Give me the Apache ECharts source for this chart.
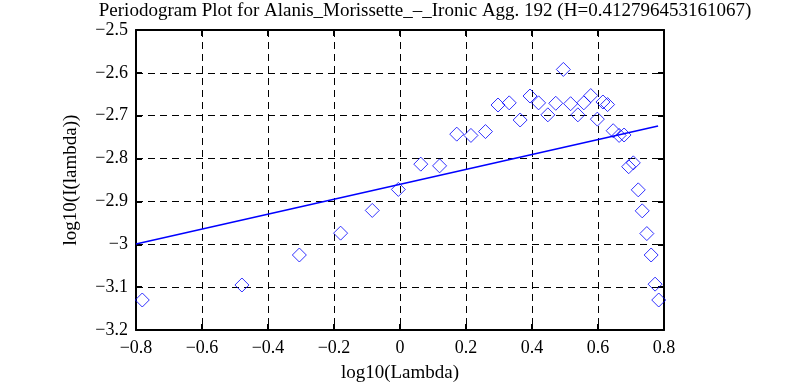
<!DOCTYPE html>
<html><head><meta charset="utf-8">
<script src="https://cdn.jsdelivr.net/npm/echarts@6/dist/echarts.min.js"></script>
<style>html,body{margin:0;padding:0;background:#fff}#c{width:800px;height:385px}</style>
</head><body><div id="c"></div>
<script>
var titleText = "Periodogram Plot for Alanis_Morissette_\u2013_Ironic Agg. 192 (H=0.412796453161067)";
var xName = "log10(Lambda)";
var yName = "log10(I(lambda))";
var pointsX = [-0.781,-0.479,-0.305,-0.180,-0.084,-0.005,0.063,0.120,0.172,0.215,0.259,0.297,0.331,0.364,0.394,0.420,0.448,0.472,0.495,0.517,0.539,0.557,0.578,0.598,0.615,0.629,0.646,0.664,0.679,0.693,0.707,0.722,0.734,0.748,0.761,0.773,0.784];
var pointsY = [-3.130,-3.095,-3.025,-2.974,-2.921,-2.872,-2.813,-2.817,-2.743,-2.746,-2.737,-2.675,-2.670,-2.710,-2.654,-2.670,-2.698,-2.671,-2.592,-2.672,-2.698,-2.670,-2.653,-2.708,-2.668,-2.674,-2.735,-2.746,-2.745,-2.819,-2.810,-2.873,-2.922,-2.975,-3.025,-3.093,-3.130];
var fitX = [-0.8, 0.782];
var fitY = [-2.9993, -2.7240];

var fmt = function(v){ var s = String(parseFloat(v.toFixed(1))); return s.replace('-', '\u2212'); };
var font = "'Liberation Serif', 'DejaVu Serif', serif";
var chart = echarts.init(document.getElementById('c'));
var axisCommon = {
  axisLine: {show: true, onZero: false, lineStyle: {color: '#000', width: 2}},
  axisTick: {show: true, inside: true, length: 6, lineStyle: {color: '#000', width: 2}},
};
chart.setOption({
  animation: false,
  backgroundColor: '#fff',
  title: {text: titleText, left: 420, top: -3, textAlign: 'center',
    textStyle: {fontFamily: font, fontSize: 19, fontWeight: 'normal', color: '#000'}},
  grid: {left: 136, right: 136, top: 30, bottom: 55, containLabel: false, outerBoundsMode: 'none'},
  xAxis: [
    Object.assign({type: 'value', min: -0.8, max: 0.8, interval: 0.2, position: 'bottom',
      name: xName, nameLocation: 'middle', nameGap: 34,
      nameTextStyle: {fontFamily: font, fontSize: 19, color: '#000'},
      axisLabel: {formatter: fmt, fontFamily: font, fontSize: 18, color: '#000', margin: 9},
      splitLine: {show: true, lineStyle: {color: '#000', type: [7, 5], width: 1}}}, axisCommon),
    Object.assign({type: 'value', min: -0.8, max: 0.8, interval: 0.2, position: 'top',
      axisLabel: {show: false}, splitLine: {show: false}}, axisCommon)
  ],
  yAxis: [
    Object.assign({type: 'value', min: -3.2, max: -2.5, interval: 0.1, position: 'left',
      name: yName, nameLocation: 'middle', nameGap: 55, nameRotate: 90,
      nameTextStyle: {fontFamily: font, fontSize: 19, color: '#000'},
      axisLabel: {formatter: fmt, fontFamily: font, fontSize: 18, color: '#000', margin: 8},
      splitLine: {show: true, lineStyle: {color: '#000', type: [7, 5], width: 1}}}, axisCommon),
    Object.assign({type: 'value', min: -3.2, max: -2.5, interval: 0.1, position: 'right',
      axisLabel: {show: false}, splitLine: {show: false}}, axisCommon)
  ],
  series: [
    {type: 'line', data: fitX.map(function(x, i){ return [x, fitY[i]]; }),
      showSymbol: false, symbol: 'none', lineStyle: {color: '#0000ff', width: 1.5}, z: 3},
    {type: 'scatter', data: pointsX.map(function(x, i){ return [x, pointsY[i]]; }),
      symbol: 'diamond', symbolSize: 14,
      itemStyle: {color: 'rgba(0,0,0,0)', borderColor: '#0000ff', borderWidth: 1}, z: 4}
  ]
});
</script></body></html>
